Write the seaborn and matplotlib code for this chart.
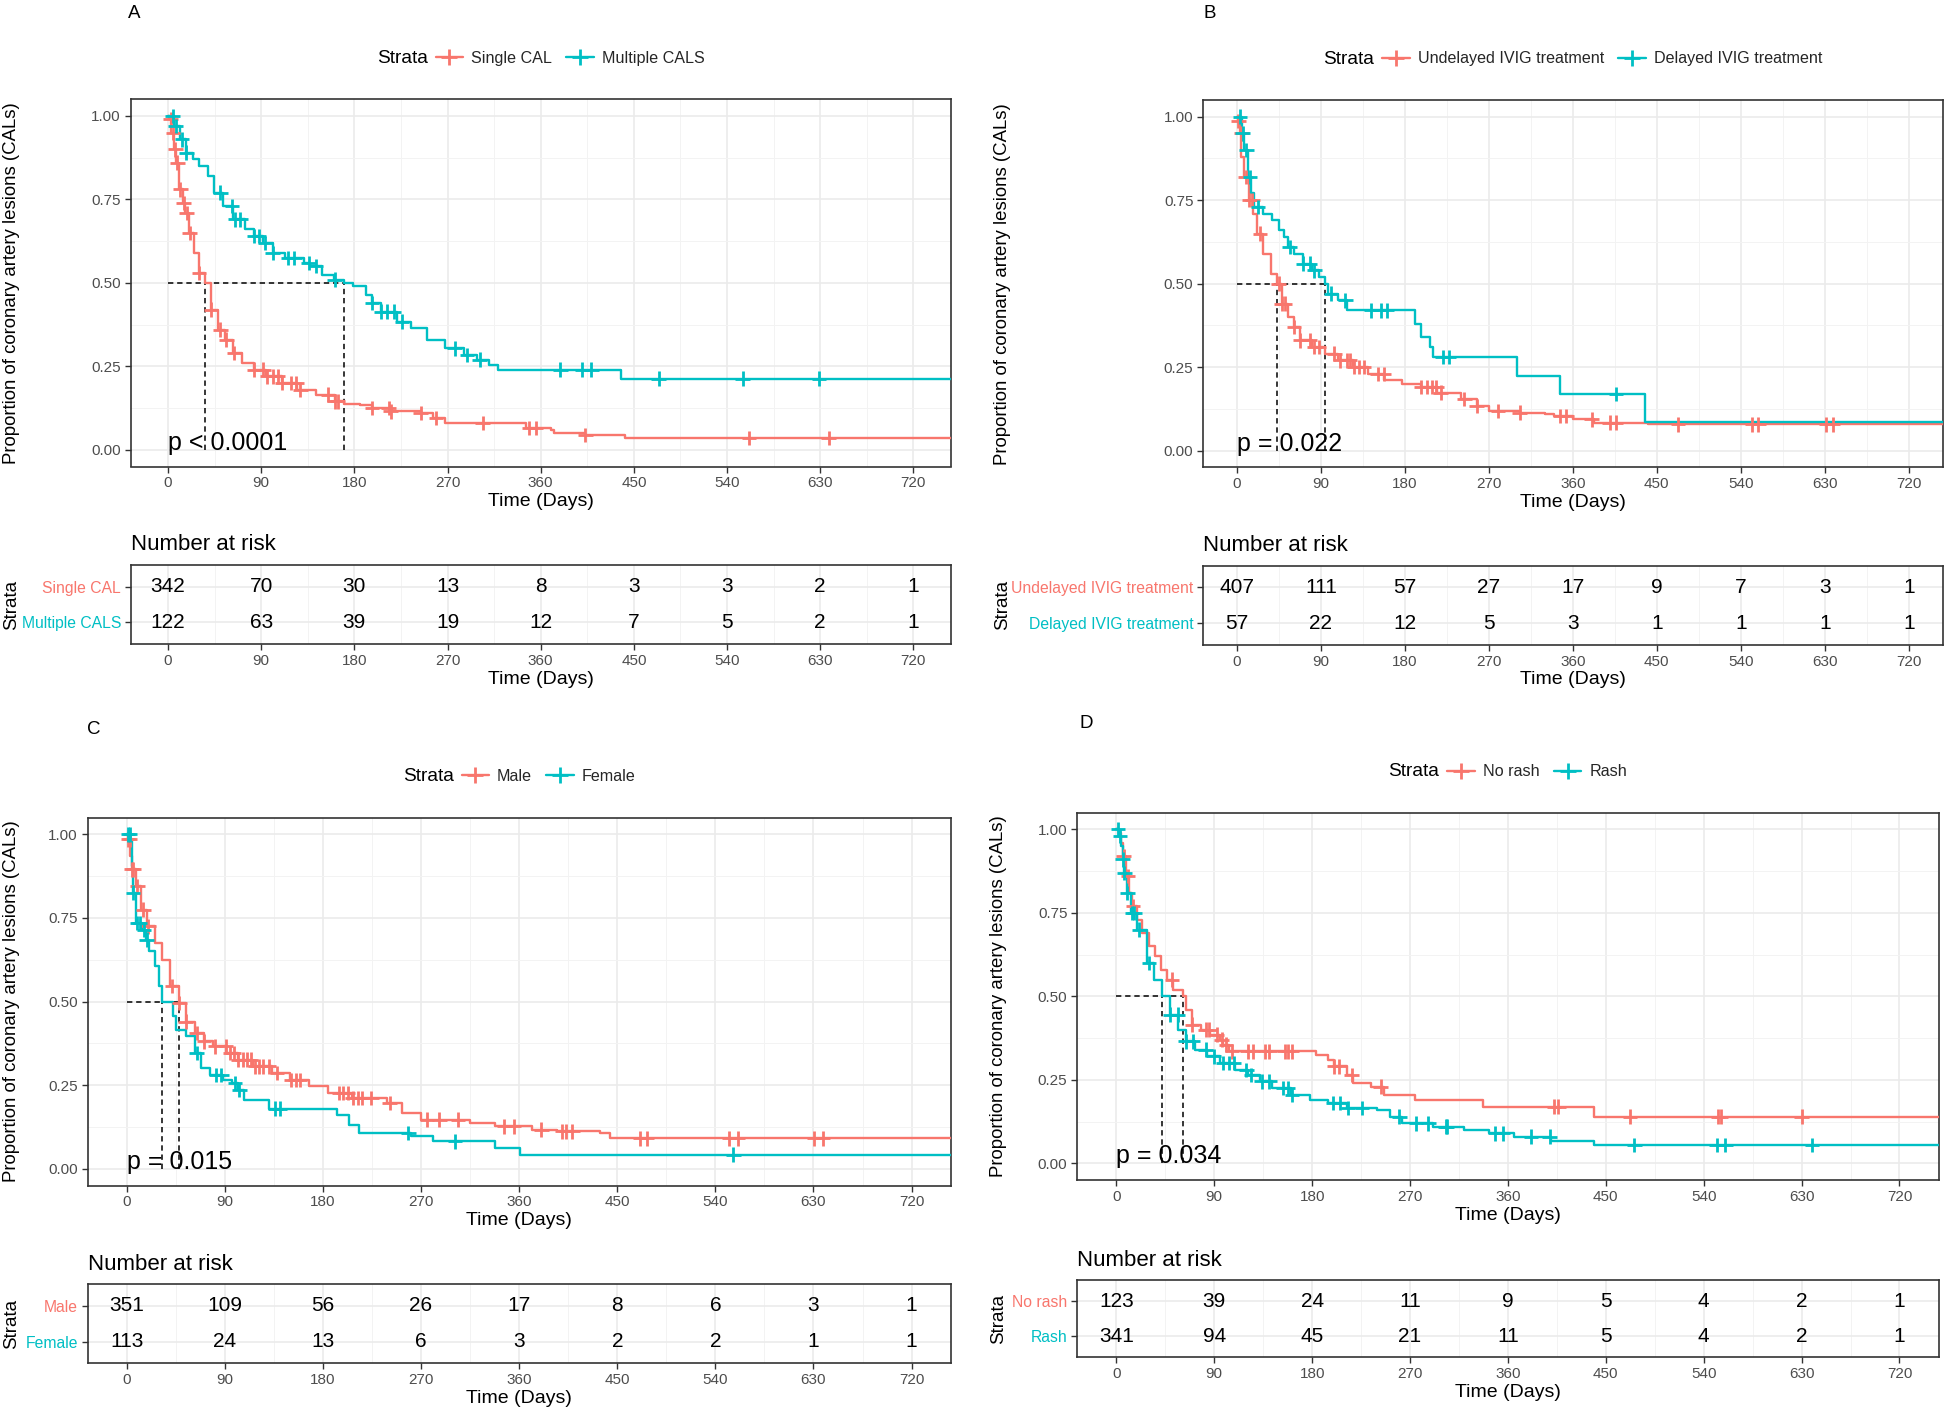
import numpy as np
import pandas as pd
import matplotlib
matplotlib.use("Agg")
import matplotlib.pyplot as plt
import seaborn as sns
from matplotlib.lines import Line2D

# ---------------- DATA ----------------
risk_times = [0, 90, 180, 270, 360, 450, 540, 630, 720]
last_followup = 760

# Panel A
A_groups = ["Single CAL", "Multiple CALS"]
A_red_t = [1, 3, 5.7, 7.5, 10.5, 14.6, 16.5, 20.6, 25, 29.6, 35.6, 41.5, 48.6, 54.6, 62.4, 71.3, 83, 95, 110, 125,
           143, 161, 170, 185, 197, 215, 244, 256, 268, 346, 370, 373, 403, 441]
A_red_s = [0.99, 0.95, 0.90, 0.86, 0.78, 0.74, 0.71, 0.65, 0.59, 0.53, 0.50, 0.42, 0.36, 0.33, 0.29, 0.26, 0.24, 0.22,
           0.20, 0.18, 0.165, 0.145, 0.138, 0.135, 0.125, 0.115, 0.11, 0.095, 0.08, 0.065, 0.06, 0.05, 0.045, 0.035]
A_red_cens = [2.7, 5, 7, 9, 12, 15, 18, 21, 30, 41.5, 50.5, 56.5, 64, 83, 92, 96, 101, 106, 110, 119, 124, 128, 155,
              161, 164, 197, 213, 215, 244, 259, 304, 349, 355, 403, 561, 638]
A_teal_t = [5.7, 11.7, 17.7, 24, 29.6, 38.5, 44.5, 53.5, 62.4, 74.3, 83, 92, 101, 113, 131, 137, 149, 160, 170, 179,
            191, 197, 206, 221, 235, 250, 268, 286, 298, 310, 319, 438]
A_teal_s = [0.97, 0.93, 0.89, 0.87, 0.85, 0.82, 0.77, 0.73, 0.69, 0.66, 0.64, 0.62, 0.59, 0.574, 0.56, 0.55, 0.524,
            0.51, 0.50, 0.49, 0.464, 0.44, 0.414, 0.384, 0.364, 0.33, 0.304, 0.284, 0.27, 0.255, 0.24, 0.213]
A_teal_cens = [4.5, 7.5, 13.5, 17.7, 50.5, 62, 65, 70, 83, 88, 94, 101, 116, 122, 136, 143, 161, 197, 206, 212, 218,
               226, 277, 289, 301, 379, 400, 409, 474, 555, 629]
A_medians = [35.6, 170]
A_pval = "p < 0.0001"
A_risk_red = [342, 70, 30, 13, 8, 3, 3, 2, 1]
A_risk_teal = [122, 63, 39, 19, 12, 7, 5, 2, 1]

# Panel B
B_groups = ["Undelayed IVIG treatment", "Delayed IVIG treatment"]
B_red_t = [1.6, 3.6, 5, 8, 13, 17, 21.5, 28, 36.7, 43, 48, 55, 61, 68, 81, 94, 108, 124, 141, 158, 177, 197, 214,
           240, 257, 270, 303, 330, 340, 360, 383, 440]
B_red_s = [0.987, 0.95, 0.88, 0.82, 0.75, 0.71, 0.65, 0.59, 0.53, 0.50, 0.44, 0.40, 0.37, 0.33, 0.31, 0.29, 0.27,
           0.25, 0.23, 0.21, 0.20, 0.19, 0.174, 0.154, 0.134, 0.119, 0.114, 0.109, 0.104, 0.094, 0.084, 0.079]
B_red_cens = [1.6, 4.9, 9.5, 13.5, 16.8, 24.8, 44.7, 48, 51.3, 61.3, 68, 77.9, 83.2, 87.9, 104.4, 111, 117.7, 121,
              125.6, 131, 136.2, 150.8, 157.5, 197.3, 203.9, 209.2, 213.8, 218.5, 243.7, 257, 280, 303, 346.5, 353,
              380, 399.5, 406, 472.6, 552, 558.7, 631.6, 638.3]
B_teal_t = [6, 8, 11.5, 15, 18, 28, 38, 45, 51, 55, 61, 71, 81, 88, 94.4, 97.7, 108, 118, 191, 197, 207, 210, 300,
            346.5, 437]
B_teal_s = [0.95, 0.90, 0.82, 0.77, 0.73, 0.71, 0.69, 0.66, 0.64, 0.61, 0.59, 0.56, 0.54, 0.52, 0.50, 0.47, 0.45,
            0.42, 0.38, 0.34, 0.31, 0.28, 0.224, 0.169, 0.086]
B_teal_cens = [3.6, 6.2, 10.2, 14.2, 22.8, 56.6, 71.2, 77.9, 83.2, 101, 116.3, 144.2, 154.1, 160.8, 220.5, 227, 406]
B_medians = [43, 94.4]
B_pval = "p = 0.022"
B_risk_red = [407, 111, 57, 27, 17, 9, 7, 3, 1]
B_risk_teal = [57, 22, 12, 5, 3, 1, 1, 1, 1]

# Panel C
C_groups = ["Male", "Female"]
C_red_t = [1, 3, 4.5, 8.5, 13, 19, 25.5, 32, 40, 48, 54, 62.5, 71, 79.5, 91, 102, 116, 133, 150, 167.5, 184.5, 207,
           238.5, 252.7, 270, 315, 338, 372, 395, 434, 443]
C_red_s = [0.985, 0.935, 0.895, 0.845, 0.775, 0.725, 0.675, 0.625, 0.546, 0.496, 0.44, 0.406, 0.381, 0.366, 0.346,
           0.326, 0.306, 0.286, 0.266, 0.246, 0.226, 0.212, 0.197, 0.167, 0.147, 0.137, 0.127, 0.117, 0.112, 0.107,
           0.091]
C_red_cens = [1.1, 2.8, 4.5, 6.2, 9.7, 15.3, 19.9, 41.5, 48.3, 54, 64.2, 71, 81.2, 90.9, 94.8, 98.2, 102.2, 106.2,
              110.7, 113.6, 117.5, 121, 125, 130.6, 138, 150.5, 155, 159, 194.8, 198.8, 202.7, 207.3, 211.8, 215.8,
              224.3, 241.3, 275.4, 286.8, 303.8, 346.4, 354.9, 380.5, 399.2, 403.2, 408.9, 471.3, 477, 552.5, 560.5,
              630.3, 638.8]
C_teal_t = [3, 4.5, 5.7, 8.5, 14, 18, 20, 25.5, 30, 32.4, 42.6, 45.4, 54, 62.5, 68, 76.7, 88, 96.5, 102, 108, 130.6,
            193, 204, 213, 261, 281, 338, 360.6]
C_teal_s = [0.985, 0.905, 0.825, 0.735, 0.715, 0.685, 0.65, 0.606, 0.546, 0.50, 0.456, 0.416, 0.396, 0.346, 0.30,
            0.28, 0.266, 0.256, 0.236, 0.206, 0.18, 0.16, 0.13, 0.107, 0.097, 0.082, 0.062, 0.042]
C_teal_cens = [1.1, 2.8, 5.7, 9.7, 11.9, 15.9, 18.2, 64.2, 82.3, 86.9, 99.4, 103.4, 136.3, 140.3, 258.4, 301, 556.5]
C_medians = [48, 32.4]
C_pval = "p = 0.015"
C_risk_red = [351, 109, 56, 26, 17, 8, 6, 3, 1]
C_risk_teal = [113, 24, 13, 6, 3, 2, 2, 1, 1]

# Panel D
D_groups = ["No rash", "Rash"]
D_red_t = [2.3, 4, 5.7, 8.5, 11.4, 14.2, 19.4, 24, 29.6, 35.3, 41, 46.7, 52.4, 61, 63.7, 69.4, 78, 86.5, 95, 98,
           103.6, 183.3, 194.7, 200, 211.7, 217.4, 234.5, 246, 274.3, 337, 439.4]
D_red_s = [0.99, 0.96, 0.92, 0.86, 0.81, 0.77, 0.73, 0.69, 0.65, 0.62, 0.58, 0.55, 0.52, 0.50, 0.46, 0.415, 0.40,
           0.385, 0.37, 0.355, 0.335, 0.325, 0.31, 0.29, 0.265, 0.24, 0.23, 0.205, 0.19, 0.17, 0.14]
D_red_cens = [6.8, 10.8, 15.4, 51.2, 69.4, 82, 85.4, 92.2, 96.8, 100.7, 106.4, 120.7, 125.2, 136.6, 140.6, 154.8,
              157.7, 161.6, 200.3, 204.9, 216.3, 243, 402.4, 406.4, 472.4, 553.2, 556, 630]
D_teal_t = [2.8, 4.6, 5.7, 6.8, 9.7, 13.7, 19.4, 28.5, 35, 42, 49.5, 57, 63.7, 72.3, 83.7, 95, 109.3, 120.7, 132,
            143.4, 160.5, 177.6, 194.6, 211.7, 240, 251.6, 263, 291.4, 319.9, 342.6, 365.4, 399.5, 439.4]
D_teal_s = [0.98, 0.95, 0.91, 0.87, 0.81, 0.75, 0.70, 0.60, 0.55, 0.50, 0.445, 0.40, 0.365, 0.34, 0.32, 0.30, 0.28,
            0.265, 0.245, 0.225, 0.205, 0.19, 0.18, 0.165, 0.16, 0.14, 0.12, 0.11, 0.10, 0.09, 0.08, 0.068, 0.055]
D_teal_cens = [1.7, 3.4, 5.7, 7.4, 10.2, 14.2, 16.5, 21.1, 30.2, 49.5, 56.3, 63.7, 70.6, 82, 89.4, 97.9, 103.6,
               108.1, 119.5, 124.1, 133.7, 140.6, 153.1, 157.7, 161.6, 199.2, 206, 212.9, 226, 260.1, 275.5, 286.9,
               302.8, 304, 348.3, 355.1, 381.3, 398.4, 476.4, 552, 560, 639.7]
D_medians = [61, 42]
D_pval = "p = 0.034"
D_risk_red = [123, 39, 24, 11, 9, 5, 4, 2, 1]
D_risk_teal = [341, 94, 45, 21, 11, 5, 4, 2, 1]

# ---------------- STYLE ----------------
W, H = 1946, 1414
RED, TEAL = "#F8766D", "#00BFC4"
sns.set_theme(style="white")
plt.rcParams['font.family'] = ['Liberation Sans', 'DejaVu Sans']
BORDER = "#333333"
TICKC = "#4D4D4D"

fig = plt.figure(figsize=(W / 100, H / 100), dpi=100)
renderer = fig.canvas.get_renderer()


def rect(l, r, t, b):
    return [l / W, 1 - b / H, (r - l) / W, (b - t) / H]


def surv_at(times, surv, t):
    times = np.asarray(times)
    idx = np.searchsorted(times, t, side='right') - 1
    return np.asarray(surv)[idx]


def style_axes(ax):
    for s in ax.spines.values():
        s.set_visible(True)
        s.set_color(BORDER)
        s.set_linewidth(1.2)
    ax.set_xlim(-36, 756)
    ax.set_xticks(risk_times)
    ax.set_xticks([45 + 90 * k for k in range(8)], minor=True)
    ax.tick_params(axis='both', which='major', length=4, width=1, color=BORDER, labelcolor=TICKC,
                   labelsize=11, pad=3, direction='out', bottom=True, left=True)
    ax.tick_params(which='minor', length=0)
    ax.grid(which='major', color='#EBEBEB', linewidth=1.2)
    ax.grid(which='minor', color='#F3F3F3', linewidth=0.7)
    ax.set_axisbelow(True)


def panel(letter, letter_xy, main_r, risk_r, label_x, groups, red_t, red_s, red_c, teal_t, teal_s, teal_c,
          medians, pval, risk_red, risk_teal):
    ax = fig.add_axes(rect(*main_r))
    rax = fig.add_axes(rect(*risk_r))
    pal = {groups[0]: RED, groups[1]: TEAL}

    rows = []
    for g, tt, ss in ((groups[0], red_t, red_s), (groups[1], teal_t, teal_s)):
        t_all = [0] + list(tt) + [last_followup]
        s_all = [1.0] + list(ss) + [ss[-1]]
        rows.append(pd.DataFrame({"time": t_all, "surv": s_all, "strata": g}))
    curves = pd.concat(rows, ignore_index=True)

    crow = []
    for g, tt, ss, cc in ((groups[0], red_t, red_s, red_c), (groups[1], teal_t, teal_s, teal_c)):
        t_all = [0] + list(tt)
        s_all = [1.0] + list(ss)
        crow.append(pd.DataFrame({"time": cc, "surv": surv_at(t_all, s_all, cc), "strata": g}))
    cens = pd.concat(crow, ignore_index=True)

    style_axes(ax)
    mmax = max(medians)
    ax.plot([0, mmax], [0.5, 0.5], color='black', lw=1.1, ls=(0, (3.5, 2.5)), zorder=3)
    for m in medians:
        ax.plot([m, m], [0, 0.5], color='black', lw=1.1, ls=(0, (3.5, 2.5)), zorder=3)

    sns.lineplot(data=curves, x="time", y="surv", hue="strata", palette=pal, estimator=None, sort=False,
                 drawstyle='steps-post', linewidth=1.7, legend=False, ax=ax, zorder=4)
    sns.scatterplot(data=cens, x="time", y="surv", hue="strata", palette=pal, marker='+', s=110,
                    linewidth=2.0, legend=False, ax=ax, zorder=5)
    ax.set_xlim(-36, 756)
    ax.set_ylim(-0.05, 1.05)
    ax.set_yticks([0, 0.25, 0.5, 0.75, 1.0])
    ax.set_yticklabels(["0.00", "0.25", "0.50", "0.75", "1.00"])
    ax.set_yticks([0.125, 0.375, 0.625, 0.875], minor=True)
    ax.set_xlabel("Time (Days)", fontsize=14, color='black', labelpad=2)
    ax.set_ylabel("")
    ax.text(0, 0.0, pval, fontsize=18, ha='left', va='baseline', color='black', zorder=6)

    # legend: "Strata" title to the left of the entries, whole group centred over the panel
    axh = main_r[3] - main_r[2]
    ycen = 1 + 41 / axh
    cx_px = (main_r[0] + main_r[1]) / 2
    handles = [Line2D([], [], color=c, marker='+', markersize=12, mew=2, lw=1.7) for c in (RED, TEAL)]
    leg = ax.legend(handles, groups, loc='center', bbox_to_anchor=(0.5, ycen), ncol=2,
                    frameon=False, fontsize=11.6, handlelength=1.7, handletextpad=0.5, columnspacing=0.9,
                    borderaxespad=0, borderpad=0)
    st = fig.text(0, 0, "Strata", fontsize=13.8, ha='right', va='center', color='black')
    wl = leg.get_window_extent(renderer).width
    ws = st.get_window_extent(renderer).width
    gap = 8
    total = ws + gap + wl
    left_px = cx_px - total / 2
    leg_cx = left_px + ws + gap + wl / 2
    axw = main_r[1] - main_r[0]
    leg.set_bbox_to_anchor(((leg_cx - main_r[0]) / axw, ycen), transform=ax.transAxes)
    st.set_position(((left_px + ws) / W, 1 - (main_r[2] - 41) / H))

    fig.text(label_x / W, 1 - ((main_r[2] + main_r[3]) / 2) / H,
             "Proportion of coronary artery lesions (CALs)", rotation=90, ha='center', va='center',
             fontsize=13.4, color='black')
    fig.text(letter_xy[0] / W, 1 - letter_xy[1] / H, letter, fontsize=13.5, ha='center', va='center',
             color='black')

    # risk table
    style_axes(rax)
    rax.set_ylim(2.6, 0.4)
    for row, vals in ((1, risk_red), (2, risk_teal)):
        for t, v in zip(risk_times, vals):
            rax.text(t, row, str(v), ha='center', va='center', fontsize=15, color='black')
    rax.set_yticks([1, 2])
    rax.set_yticklabels(groups)
    for tl, c in zip(rax.get_yticklabels(), (RED, TEAL)):
        tl.set_color(c)
        tl.set_fontsize(11.3)
    rax.grid(axis='y', which='minor', visible=False)
    rax.set_xlabel("Time (Days)", fontsize=14, color='black', labelpad=2)
    rh = risk_r[3] - risk_r[2]
    rax.text(0, 1 + 20 / rh, "Number at risk", transform=rax.transAxes, ha='left', va='center', fontsize=16,
             color='black')
    fig.text(label_x / W, 1 - ((risk_r[2] + risk_r[3]) / 2) / H, "Strata", rotation=90, ha='center',
             va='center', fontsize=13.5, color='black')


panel("A", (134, 13), (130.7, 950.7, 99.3, 466.5), (130.7, 950.7, 565, 644), 12, A_groups,
      A_red_t, A_red_s, A_red_cens, A_teal_t, A_teal_s, A_teal_cens, A_medians, A_pval, A_risk_red, A_risk_teal)
panel("B", (1210, 13), (1203.2, 1942.5, 100, 467.3), (1203.2, 1942.5, 565.7, 645), 1003, B_groups,
      B_red_t, B_red_s, B_red_cens, B_teal_t, B_teal_s, B_teal_cens, B_medians, B_pval, B_risk_red, B_risk_teal)
panel("C", (94, 729), (87.5, 950.8, 817.5, 1185.5), (87.5, 950.8, 1284.3, 1363.3), 12, C_groups,
      C_red_t, C_red_s, C_red_cens, C_teal_t, C_teal_s, C_teal_cens, C_medians, C_pval, C_risk_red, C_risk_teal)
panel("D", (1086, 724), (1077.2, 1938.6, 812.7, 1180), (1077.2, 1938.6, 1280, 1357.3), 999, D_groups,
      D_red_t, D_red_s, D_red_cens, D_teal_t, D_teal_s, D_teal_cens, D_medians, D_pval, D_risk_red, D_risk_teal)

fig.savefig("out.png", dpi=100, facecolor='white')
